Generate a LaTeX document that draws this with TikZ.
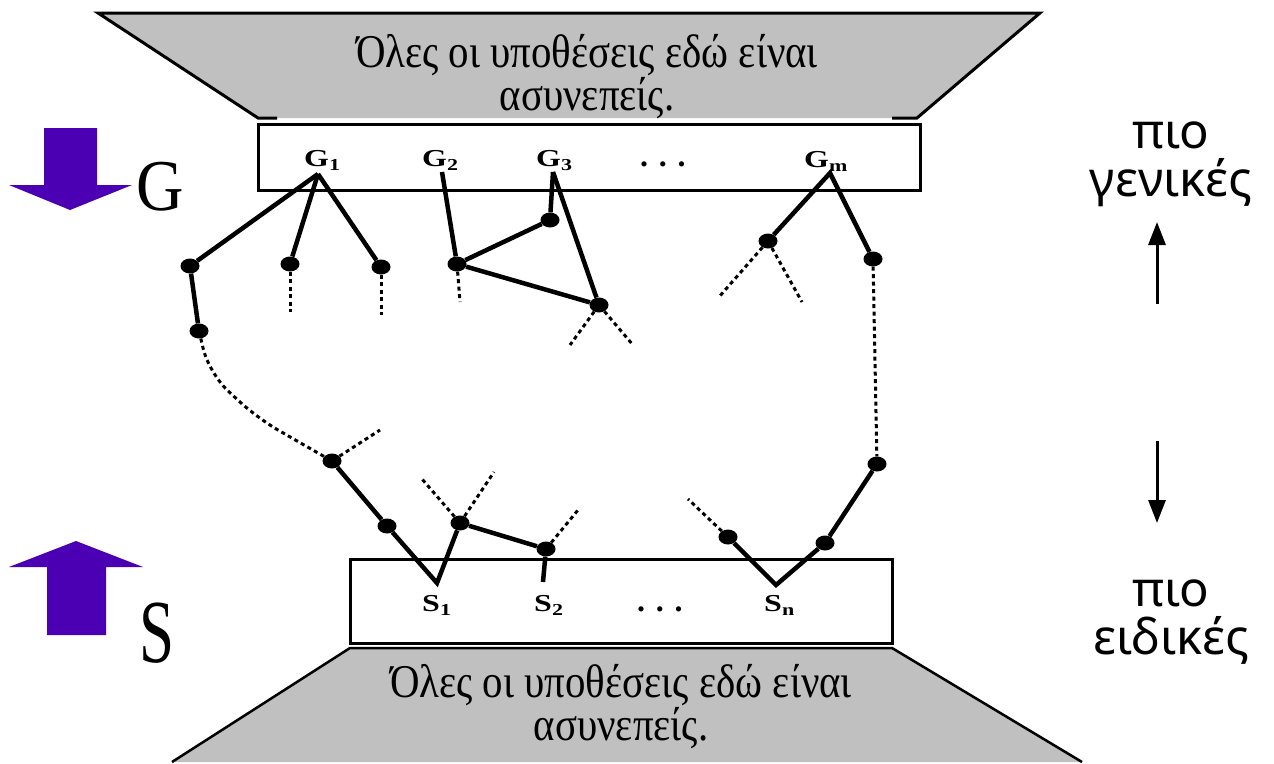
\documentclass[tikz,border=0pt]{standalone}
\usepackage{fontspec}
\setmainfont{Liberation Serif}
\newfontfamily\sidefont{Noto Sans}
\usepackage{graphicx}
\usetikzlibrary{shapes.geometric,arrows.meta,positioning}
\definecolor{slab}{RGB}{192,192,192}
\definecolor{blockblue}{RGB}{75,0,180}
\newcommand{\narrow}[2]{\scalebox{#1}[1]{#2}}
\newcommand{\bnd}[2]{\scalebox{1}[0.76]{\fontsize{32}{32}\selectfont\bfseries #1\raisebox{-6pt}{\fontsize{22}{22}\selectfont #2}}}

\begin{document}
\begin{tikzpicture}[x=1pt, y=-1pt,
    hyp/.style={ellipse, fill=black, inner sep=0pt, minimum width=19pt, minimum height=15pt},
    edge/.style={line width=4.5pt},
    open/.style={line width=3pt, dash pattern=on 4pt off 3.5pt},
    note/.style={anchor=base, inner sep=0pt, align=center, font=\fontsize{47}{35}\selectfont},
    side/.style={anchor=base, inner sep=0pt, align=center, font=\sidefont\fontsize{49}{48}\selectfont},
    lbl/.style={anchor=base west, inner sep=0pt}]
  \useasboundingbox (0,0) rectangle (1274,763);

  \fill[slab] (98,13) -- (1040,13) -- (917,118) -- (258,118) -- cycle;
  \draw[line width=3pt] (277,118) -- (258,118) -- (98,13) -- (1040,13) -- (917,118) -- (892,118);
  \fill[slab] (350,648) -- (892,648) -- (1082,762) -- (172,762) -- cycle;
  \draw[line width=2.5pt] (172,762) -- (350,648) -- (892,648) -- (1082,762);
  \draw[line width=3pt] (258,124) rectangle (920,190);
  \draw[line width=3pt] (350,559) rectangle (892,643);

  \node[note] (topnote) at (587,110) {\narrow{0.87}{Όλες οι υποθέσεις εδώ είναι}\\\narrow{0.87}{ασυνεπείς.}};
  \node[note] (botnote) at (621,740) {\narrow{0.87}{Όλες οι υποθέσεις εδώ είναι}\\\narrow{0.87}{ασυνεπείς.}};

  \fill[blockblue] (44,128) -- (97,128) -- (97,185) -- (132,185) -- (70,210) -- (9,185) -- (44,185) -- cycle;
  \fill[blockblue] (76,541) -- (143,567) -- (106,567) -- (106,635) -- (47,635) -- (47,567) -- (9,567) -- cycle;
  \node[lbl, font=\fontsize{73}{73}\selectfont] (gen) at (136,210) {\narrow{0.9}{G}};
  \node[lbl, font=\fontsize{90}{90}\selectfont] (spec) at (139,662) {\narrow{0.7}{S}};

  \node[side] (general) at (1171,196) {πιο\\γενικές};
  \node[side] (specific) at (1171,654) {πιο\\ειδικές};
  \coordinate (upfoot) at (1157,304);
  \coordinate (uptip) at (1157,222);
  \coordinate (downfoot) at (1157,441);
  \coordinate (downtip) at (1157,523);
  \draw[-{Triangle[length=23pt,width=17pt]}, line width=3pt] (upfoot) -- (uptip);
  \draw[-{Triangle[length=23pt,width=17pt]}, line width=3pt] (downfoot) -- (downtip);

  \node[lbl] (lg1) at (304,166) {\bnd{G}{1}};
  \node[lbl] (lg2) at (422,166) {\bnd{G}{2}};
  \node[lbl] (lg3) at (536,166) {\bnd{G}{3}};
  \node[lbl, font=\fontsize{32}{32}\selectfont\bfseries] (lgdots) at (640,166) {.\,\,.\,\,.};
  \node[lbl] (lgm) at (804,167) {\bnd{G}{m}};
  \node[lbl] (ls1) at (422,611) {\bnd{S}{1}};
  \node[lbl] (ls2) at (534,611) {\bnd{S}{2}};
  \node[lbl, font=\fontsize{32}{32}\selectfont\bfseries] (lsdots) at (637,611) {.\,\,.\,\,.};
  \node[lbl] (lsn) at (764,611) {\bnd{S}{n}};

  \coordinate (g1) at (318,174);
  \coordinate (g2) at (442,172);
  \coordinate (g3) at (553,172);
  \coordinate (gm) at (830,173);
  \coordinate (s1) at (437,583);
  \coordinate (s2) at (543,582);
  \coordinate (sn) at (776,585);

  \node[hyp] (k) at (190,266) {};
  \node[hyp] (l) at (290,264) {};
  \node[hyp] (m) at (381,267) {};
  \node[hyp] (n) at (199,331) {};
  \node[hyp] (p) at (457,264) {};
  \node[hyp] (q) at (550,220) {};
  \node[hyp] (r) at (599,305) {};
  \node[hyp] (e) at (768,241) {};
  \node[hyp] (f) at (873,259) {};
  \node[hyp] (h) at (877,464) {};
  \node[hyp] (i) at (825,543) {};
  \node[hyp] (j) at (728,537) {};
  \node[hyp] (a) at (332,461) {};
  \node[hyp] (b) at (387,526) {};
  \node[hyp] (c) at (460,523) {};
  \node[hyp] (d) at (546,549) {};

  \coordinate (lend) at (290,312);
  \coordinate (mend) at (381,315);
  \coordinate (pend) at (460,302);
  \coordinate (rend1) at (570,345);
  \coordinate (rend2) at (633,345);
  \coordinate (eend1) at (719,297);
  \coordinate (eend2) at (802,302);
  \coordinate (jend) at (688,499);
  \coordinate (aend) at (380,430);
  \coordinate (cend1) at (422,479);
  \coordinate (cend2) at (494,472);
  \coordinate (dend) at (578,510);

  \draw[edge] (g1) -- (k);
  \draw[edge] (g1) -- (l);
  \draw[edge] (g1) -- (m);
  \draw[edge] (k) -- (n);
  \draw[edge] (g2) -- (p);
  \draw[edge] (p) -- (q);
  \draw[edge] (q) -- (g3);
  \draw[edge] (g3) -- (r);
  \draw[edge] (p) -- (r);
  \draw[edge] (e) -- (gm) -- (f);
  \draw[edge] (h) -- (i) -- (sn) -- (j);
  \draw[edge] (a) -- (b) -- (s1) -- (c) -- (d) -- (s2);

  \draw[open] (l) -- (lend);
  \draw[open] (m) -- (mend);
  \draw[open] (p) -- (pend);
  \draw[open] (r) -- (rend1);
  \draw[open] (r) -- (rend2);
  \draw[open] (e) -- (eend1);
  \draw[open] (e) -- (eend2);
  \draw[open] (f) -- (h);
  \draw[open] (j) -- (jend);
  \draw[open, rounded corners=25pt] (n) -- (209,373) -- (257,418) -- (a);
  \draw[open] (a) -- (aend);
  \draw[open] (c) -- (cend1);
  \draw[open] (c) -- (cend2);
  \draw[open] (d) -- (dend);
\end{tikzpicture}
\end{document}
